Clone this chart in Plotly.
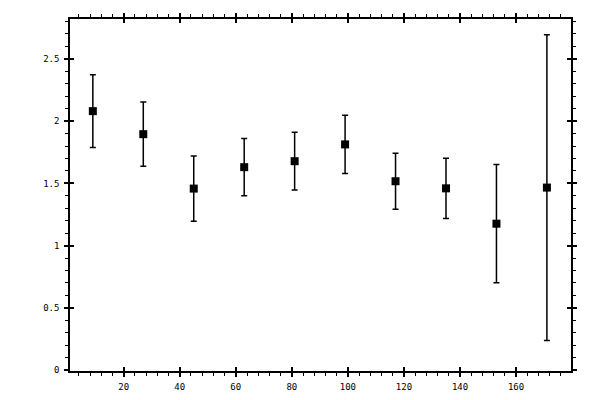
import plotly.graph_objects as go

x_centres = [9, 27, 45, 63, 81, 99, 117, 135, 153, 171]
y_values = [2.08, 1.895, 1.458, 1.63, 1.678, 1.813, 1.517, 1.46, 1.176, 1.466]
y_errors = [0.293, 0.258, 0.262, 0.23, 0.232, 0.234, 0.224, 0.242, 0.475, 1.228]

x_ticks = [20, 40, 60, 80, 100, 120, 140, 160]
y_ticks = [0, 0.5, 1, 1.5, 2, 2.5]
y_tick_labels = ['0', '0.5', '1', '1.5', '2', '2.5']

x_range = [0.85, 179.6]
y_range = [-0.007, 2.82]

tick_font = dict(family='DejaVu Sans Mono', size=9, color='black')

fig = go.Figure()

fig.add_trace(go.Scatter(
    x=x_centres,
    y=y_values,
    mode='markers',
    marker=dict(symbol='square', size=8, color='black'),
    error_y=dict(type='data', array=y_errors, visible=True,
                 color='black', thickness=1.5, width=3),
    showlegend=False,
))

# invisible trace so the overlay axes (inside ticks) get drawn
fig.add_trace(go.Scatter(
    x=[x_range[0]], y=[y_range[0]], xaxis='x2', yaxis='y2',
    mode='markers', marker=dict(opacity=0), showlegend=False, hoverinfo='skip',
))

axis_common = dict(
    showgrid=False, zeroline=False, showline=True, linecolor='black',
    linewidth=1.5, mirror='ticks', ticks='outside', ticklen=4,
    tickwidth=1.5, tickcolor='black', tickfont=tick_font, automargin=False,
)

# the page body adds an 8px offset, so margins are shifted to compensate
fig.update_layout(
    width=600,
    height=400,
    paper_bgcolor='white',
    plot_bgcolor='white',
    margin=dict(l=62, r=37, t=11, b=37),
    xaxis=dict(
        range=x_range, tickvals=x_ticks, ticklabelstandoff=2,
        minor=dict(ticks='outside', ticklen=3, tickwidth=1.2,
                   tickcolor='black', dtick=4, tick0=0),
        **axis_common,
    ),
    yaxis=dict(
        range=y_range, tickvals=y_ticks, ticktext=y_tick_labels,
        ticklabelstandoff=3,
        minor=dict(ticks='outside', ticklen=3, tickwidth=1.2,
                   tickcolor='black', dtick=0.1, tick0=0),
        **axis_common,
    ),
    xaxis2=dict(
        overlaying='x', range=x_range, tickvals=x_ticks, showticklabels=False,
        showgrid=False, zeroline=False, ticks='inside', ticklen=4,
        tickwidth=1.5, tickcolor='black', mirror='ticks', showline=False,
        automargin=False,
    ),
    yaxis2=dict(
        overlaying='y', range=y_range, tickvals=y_ticks, showticklabels=False,
        showgrid=False, zeroline=False, ticks='inside', ticklen=4,
        tickwidth=1.5, tickcolor='black', mirror='ticks', showline=False,
        automargin=False,
    ),
)

fig.write_html('out.html')
